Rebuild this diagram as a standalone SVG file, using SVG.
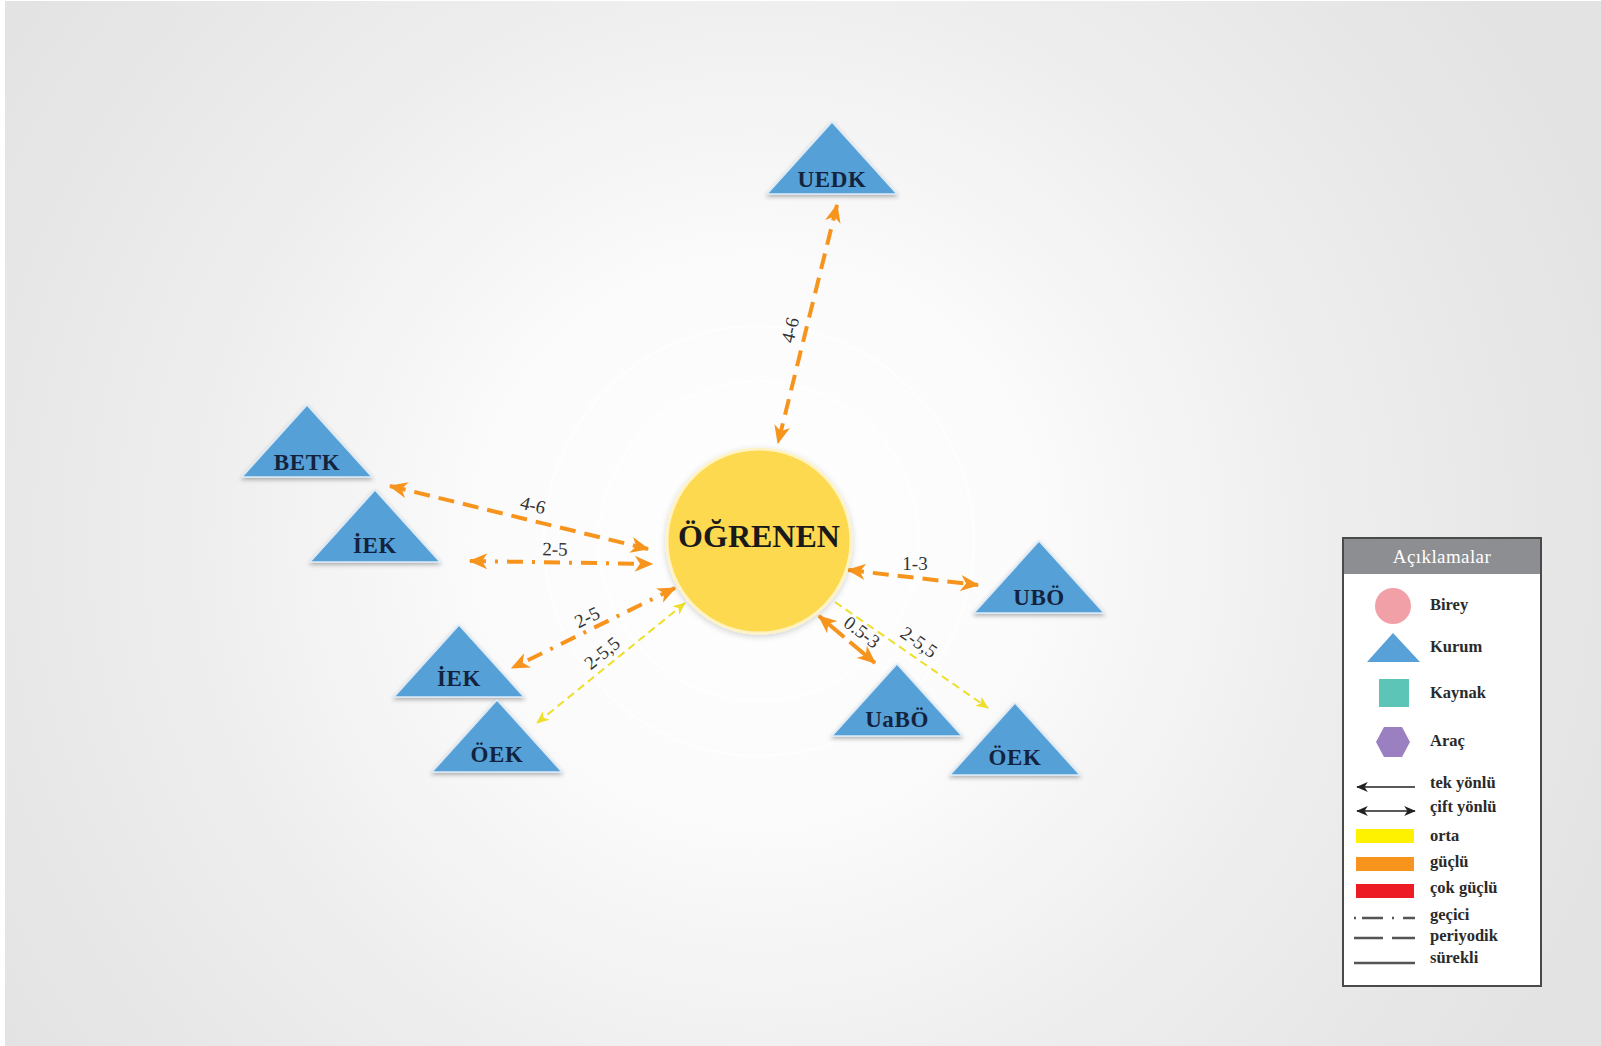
<svg xmlns="http://www.w3.org/2000/svg" width="1601" height="1046" viewBox="0 0 1601 1046">
<defs>
<radialGradient id="bg" cx="759" cy="541" r="900" gradientUnits="userSpaceOnUse">
<stop offset="0" stop-color="#ffffff"/>
<stop offset="0.3" stop-color="#fbfbfb"/>
<stop offset="0.65" stop-color="#ededed"/>
<stop offset="1" stop-color="#e3e3e3"/>
</radialGradient>
<filter id="sh" x="-20%" y="-20%" width="140%" height="150%">
<feDropShadow dx="0" dy="2" stdDeviation="2" flood-color="#000" flood-opacity="0.3"/>
</filter>
<filter id="csh" x="-20%" y="-20%" width="140%" height="140%">
<feDropShadow dx="0" dy="2" stdDeviation="3" flood-color="#000" flood-opacity="0.18"/>
</filter>
<marker id="ao" viewBox="0 0 14 12" refX="13" refY="6" markerWidth="19" markerHeight="16" markerUnits="userSpaceOnUse" orient="auto-start-reverse">
<path d="M0,0 L14,6 L0,12 L4,6 Z" fill="#f7941d"/>
</marker>
<marker id="ay" viewBox="0 0 14 12" refX="13" refY="6" markerWidth="13" markerHeight="11" markerUnits="userSpaceOnUse" orient="auto-start-reverse">
<path d="M0,0 L14,6 L0,12 L4,6 Z" fill="#eedf2a"/>
</marker>
<marker id="ak" viewBox="0 0 14 12" refX="13" refY="6" markerWidth="12" markerHeight="10" markerUnits="userSpaceOnUse" orient="auto-start-reverse">
<path d="M0,0 L14,6 L0,12 L4,6 Z" fill="#222"/>
</marker>
</defs>
<style>
.tri{fill:#57a0d8;stroke:#dbeaf7;stroke-width:1.5;filter:url(#sh)}
.tl{font-family:"Liberation Serif",serif;font-weight:bold;font-size:23px;fill:#14233d;text-anchor:middle;letter-spacing:0.6px}
.lb{font-family:"Liberation Serif",serif;font-size:19px;fill:#333;text-anchor:middle;dominant-baseline:central}
.or{fill:none;stroke:#f7941d;stroke-width:4}
.ye{fill:none;stroke:#eedf2a;stroke-width:2}
.per{stroke-dasharray:16 9}
.tra{stroke-dasharray:16 9 3 9}
.ytr{stroke-dasharray:8 5}
.lg{font-family:"Liberation Serif",serif;font-weight:bold;font-size:16.5px;fill:#2a2a2a}
.ll{fill:none;stroke:#555;stroke-width:2.5}
</style>
<rect x="0" y="0" width="1601" height="1046" fill="#ffffff"/>
<rect x="5" y="1" width="1596" height="1045" fill="url(#bg)"/>
<circle cx="759" cy="541" r="160" fill="none" stroke="#ffffff" stroke-width="3" opacity="0.6"/>
<circle cx="759" cy="541" r="215" fill="none" stroke="#ffffff" stroke-width="3" opacity="0.5"/>

<g id="connectors">
<line class="or per" x1="837" y1="205" x2="778" y2="443" marker-start="url(#ao)" marker-end="url(#ao)"/>
<text class="lb" transform="translate(790,330) rotate(-76)">4-6</text>
<line class="or per" x1="390" y1="486" x2="648" y2="549" marker-start="url(#ao)" marker-end="url(#ao)"/>
<text class="lb" transform="translate(533,505) rotate(14)">4-6</text>
<line class="or tra" x1="470" y1="561" x2="652" y2="564" marker-start="url(#ao)" marker-end="url(#ao)"/>
<text class="lb" transform="translate(555,549) rotate(1)">2-5</text>
<line class="or per" x1="848" y1="570" x2="978" y2="585" marker-start="url(#ao)" marker-end="url(#ao)"/>
<text class="lb" transform="translate(915,563)">1-3</text>
<line class="or tra" x1="675" y1="588" x2="512" y2="668" marker-start="url(#ao)" marker-end="url(#ao)"/>
<text class="lb" transform="translate(587,617) rotate(-26)">2-5</text>
<line class="ye ytr" x1="685" y1="603" x2="537" y2="723" marker-start="url(#ay)" marker-end="url(#ay)"/>
<text class="lb" transform="translate(602,653) rotate(-39)">2-5,5</text>
<line class="or" style="stroke-dasharray:33 7" x1="819" y1="616" x2="875" y2="663" marker-start="url(#ao)" marker-end="url(#ao)"/>
<text class="lb" transform="translate(862,632) rotate(37)">0.5-3</text>
<line class="ye ytr" x1="835" y1="602" x2="988" y2="708" marker-end="url(#ay)"/>
<text class="lb" transform="translate(919,642) rotate(35)">2-5,5</text>
</g>

<g id="ogrenen">
<circle cx="759" cy="541" r="92" fill="#fdd94f" stroke="#fff3c4" stroke-width="3" filter="url(#csh)"/>
<text x="759" y="547" font-family="Liberation Serif, serif" font-weight="bold" font-size="32" fill="#1a1a1a" text-anchor="middle">ÖĞRENEN</text>
</g>

<g id="uedk"><polygon class="tri" points="832,122 767,194 897,194"/><text class="tl" x="832" y="187">UEDK</text></g>
<g id="betk"><polygon class="tri" points="307,405 242,477 372,477"/><text class="tl" x="307" y="470">BETK</text></g>
<g id="iek1"><polygon class="tri" points="375,490 310,562 440,562"/><text class="tl" x="375" y="553">İEK</text></g>
<g id="ubo"><polygon class="tri" points="1039,541 974,613 1104,613"/><text class="tl" x="1039" y="605">UBÖ</text></g>
<g id="iek2"><polygon class="tri" points="459,625 394,697 524,697"/><text class="tl" x="459" y="686">İEK</text></g>
<g id="oek1"><polygon class="tri" points="497,700 432,772 562,772"/><text class="tl" x="497" y="762">ÖEK</text></g>
<g id="uabo"><polygon class="tri" points="897,664 832,736 962,736"/><text class="tl" x="897" y="727">UaBÖ</text></g>
<g id="oek2"><polygon class="tri" points="1015,703 950,775 1080,775"/><text class="tl" x="1015" y="765">ÖEK</text></g>

<g id="legend">
<rect x="1343" y="538" width="198" height="448" fill="#ffffff" stroke="#4a4a4a" stroke-width="2"/>
<rect x="1344" y="539" width="196" height="35" fill="#8c8e91"/>
<text x="1442" y="563" font-family="Liberation Serif, serif" font-size="19" fill="#ffffff" text-anchor="middle" letter-spacing="0.4">Açıklamalar</text>
<circle cx="1393" cy="606" r="18" fill="#f2a0a8"/>
<text class="lg" x="1430" y="610">Birey</text>
<polygon points="1393,633 1367,662 1420,662" fill="#57a0d8"/>
<text class="lg" x="1430" y="652">Kurum</text>
<rect x="1379" y="679" width="30" height="28" fill="#5dc5b7"/>
<text class="lg" x="1430" y="698">Kaynak</text>
<polygon points="1376,742 1384,727 1402,727 1410,742 1402,757 1384,757" fill="#9a7fc1"/>
<text class="lg" x="1430" y="746">Araç</text>
<line x1="1415" y1="787" x2="1357" y2="787" stroke="#222" stroke-width="1.5" marker-end="url(#ak)"/>
<text class="lg" x="1430" y="788">tek yönlü</text>
<line x1="1357" y1="811" x2="1415" y2="811" stroke="#222" stroke-width="1.5" marker-start="url(#ak)" marker-end="url(#ak)"/>
<text class="lg" x="1430" y="812">çift yönlü</text>
<rect x="1356" y="829" width="58" height="14" fill="#fff200"/>
<text class="lg" x="1430" y="841">orta</text>
<rect x="1356" y="857" width="58" height="14" fill="#f7941d"/>
<text class="lg" x="1430" y="867">güçlü</text>
<rect x="1356" y="884" width="58" height="14" fill="#ed1c24"/>
<text class="lg" x="1430" y="893">çok güçlü</text>
<line class="ll" x1="1354" y1="918" x2="1415" y2="918" style="stroke-dasharray:2 6 21 9 2 9 14"/>
<text class="lg" x="1430" y="920">geçici</text>
<line class="ll" x1="1354" y1="938" x2="1415" y2="938" style="stroke-dasharray:29 9 23"/>
<text class="lg" x="1430" y="941">periyodik</text>
<line class="ll" x1="1354" y1="963" x2="1415" y2="963"/>
<text class="lg" x="1430" y="963">sürekli</text>
</g>
</svg>
